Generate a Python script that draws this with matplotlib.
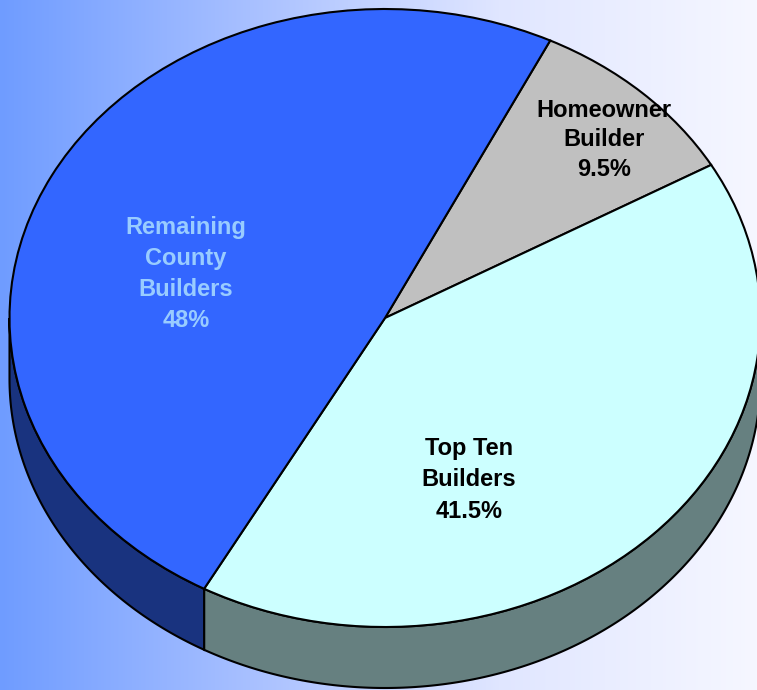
import matplotlib
matplotlib.use('Agg')
import matplotlib.pyplot as plt
import numpy as np

labels = ['Homeowner\nBuilder\n9.5%', 'Top Ten\nBuilders\n41.5%', 'Remaining\nCounty\nBuilders\n48%']
# slice sizes as drawn; the printed labels add up to 99 only
shares = [9.5, 41.25, 49.25]
top_colors = ['#c0c0c0', '#ccffff', '#3366ff']
side_colors = ['#606060', '#668080', '#19337f']
text_colors = ['#000000', '#000000', '#99ccff']

# picture geometry, in pixels
W, H = 757, 690
CX, CY, RX, RY = 385, 318, 375.5, 309
DEPTH = 61
START = 63.9

# pie units: radius 1, squashed by the axes limits
depth = DEPTH / RY

fig = plt.figure(figsize=(W / 100, H / 100), dpi=100)
ax = fig.add_axes([0, 0, 1, 1])

xlim = (-CX / RX, (W - CX) / RX)
ylim = ((CY - H) / RY, CY / RY)

# background gradient, blue to near white
stops = np.array([[0x6f, 0x9c, 0xff], [0xa8, 0xc0, 0xff], [0xe0, 0xe6, 0xff], [0xf6, 0xf7, 0xff]]) / 255
pos = np.linspace(0, 1, W)
grad = np.stack([np.interp(pos, [0, 0.33, 0.66, 1], stops[:, i]) for i in range(3)], axis=-1)
ax.imshow(grad[np.newaxis, :, :], extent=(*xlim, *ylim), aspect='auto', zorder=0)

# rim below the pie, only the front half shows
edges = START - np.cumsum([0] + shares) / sum(shares) * 360
for i in range(len(shares)):
    a0, a1 = edges[i + 1], edges[i]
    lo, hi = max(a0, -180), min(a1, 0)
    if hi <= lo:
        continue
    t = np.radians(np.linspace(lo, hi, 200))
    xs = np.concatenate([np.cos(t), np.cos(t[::-1])])
    ys = np.concatenate([np.sin(t), np.sin(t[::-1]) - depth])
    ax.fill(xs, ys, facecolor=side_colors[i], edgecolor='black', linewidth=1.5, zorder=1)

wedges, _ = ax.pie(shares, colors=top_colors, startangle=START, counterclock=False, radius=1,
                   wedgeprops={'edgecolor': 'black', 'linewidth': 1.5})
for w in wedges:
    w.set_zorder(2)

ax.set_aspect('auto')
ax.set_xlim(*xlim)
ax.set_ylim(*ylim)
ax.axis('off')

# label positions in pixels, with line spacing for each
label_px = [(604, 140), (469, 480), (186, 274)]
spacing = [1.37, 1.45, 1.44]
for text, color, (px, py), ls in zip(labels, text_colors, label_px, spacing):
    ax.text((px - CX) / RX, (CY - py) / RY, text, color=color, ha='center', va='center',
            fontsize=17, fontweight='bold', family='Liberation Sans', linespacing=ls, zorder=3)

fig.savefig('out.png', dpi=100)
